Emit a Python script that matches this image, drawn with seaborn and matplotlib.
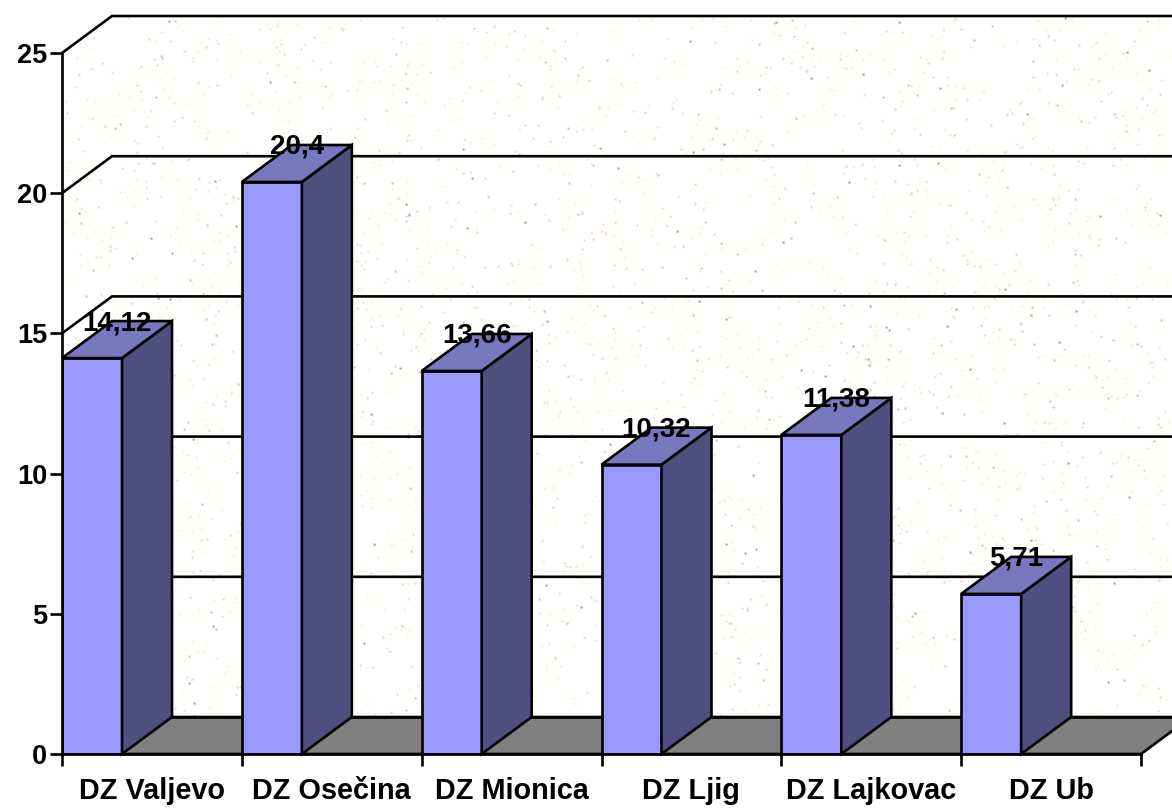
import numpy as np
import pandas as pd
import matplotlib
matplotlib.use("Agg")
import matplotlib.pyplot as plt
import seaborn as sns
from matplotlib.patches import Polygon

categories = ["DZ Valjevo", "DZ Osečina", "DZ Mionica", "DZ Ljig", "DZ Lajkovac", "DZ Ub"]
values = [14.12, 20.4, 13.66, 10.32, 11.38, 5.71]
y_ticks = [0, 5, 10, 15, 20, 25]

FRONT = "#9999FF"
TOP = "#7878BE"
SIDE = "#4F4F80"
FLOOR = "#808080"
LW = 1.9

W, H = 1172, 808
X0, X1, Y0, Y25 = 62, 1141, 754, 53
DEPTH_X, DEPTH_Y = 50, 37
CAT_W = (X1 - X0) / len(categories)
BAR_W = 60 / CAT_W
DX = DEPTH_X / CAT_W
UNIT_PX = (Y0 - Y25) / 25
DY = DEPTH_Y / UNIT_PX


def wall_texture():
    # decorative paper speckle only, the chart data does not come from this
    rng = np.random.default_rng(7)
    h, w = Y0 - 16, W - X0
    img = np.ones((h, w, 4))
    img[..., 2] = 0.995
    shades = [(0.68, 0.68, 0.65), (0.93, 0.72, 0.78), (0.98, 0.95, 0.65), (0.85, 0.85, 0.85), (0.45, 0.48, 0.45)]
    counts = [260, 700, 1500, 800, 120]
    for shade, n in zip(shades, counts):
        ys = rng.integers(2, h - 3, n)
        xs = rng.integers(2, w - 3, n)
        for y, x in zip(ys, xs):
            for dy, dx, a in [(0, 0, 0.7), (0, 1, 0.45), (1, 0, 0.45), (-1, 0, 0.3), (0, -1, 0.3),
                              (1, 1, 0.2), (-1, -1, 0.15), (1, -1, 0.15), (-1, 1, 0.15)]:
                img[y + dy, x + dx, :3] = img[y + dy, x + dx, :3] * (1 - a) + np.array(shade) * a
    # cut away the corner above the left wall
    yy, xx = np.mgrid[0:h, 0:w]
    img[(xx < DEPTH_X) & (yy < DEPTH_Y - xx * DEPTH_Y / DEPTH_X), 3] = 0
    # and the corner below the floor on the right
    floor_px = h - DEPTH_Y
    img[(yy > floor_px) & (xx > X1 - X0 + (h - yy) * DEPTH_X / DEPTH_Y), 3] = 0
    return img


sns.set_theme(style="white")
plt.rcParams["font.family"] = ["Liberation Sans", "DejaVu Sans"]
plt.rcParams["font.weight"] = "bold"

fig = plt.figure(figsize=(W / 100, H / 100), dpi=100, facecolor="white")
fig.figimage(wall_texture(), xo=X0, yo=H - Y0, origin="upper", zorder=0)

ax = fig.add_axes([X0 / W, (H - Y0) / H, (X1 - X0) / W, (Y0 - Y25) / H])
ax.set_zorder(2)
ax.patch.set_alpha(0)

df = pd.DataFrame({"unit": categories, "value": values})
sns.barplot(data=df, x="unit", y="value", color=FRONT, saturation=1, width=BAR_W,
            edgecolor="black", linewidth=LW, ax=ax, zorder=3)

left = -BAR_W / 2
right = left + len(categories)
ax.set_xlim(left, right)
ax.set_ylim(0, y_ticks[-1])

# floor and back wall lines, the back lines run off the right edge
far = left + (W + 10 - X0) / CAT_W
ax.add_patch(Polygon([(left, 0), (left + DX, DY), (right + DX, DY), (right, 0)], closed=True,
                     facecolor=FLOOR, edgecolor="black", lw=LW, clip_on=False, zorder=1))
ax.plot([left + DX, far], [DY, DY], color="black", lw=LW, clip_on=False, zorder=1)
for t in y_ticks[1:]:
    ax.plot([left, left + DX, far], [t, t + DY, t + DY], color="black", lw=LW,
            clip_on=False, zorder=1, solid_joinstyle="miter")

# depth faces and value labels for each bar
for i, v in enumerate(values):
    xl, xr = i - BAR_W / 2, i + BAR_W / 2
    ax.add_patch(Polygon([(xr, 0), (xr + DX, DY), (xr + DX, v + DY), (xr, v)], closed=True,
                         facecolor=SIDE, edgecolor="black", lw=LW, clip_on=False, zorder=3))
    ax.add_patch(Polygon([(xl, v), (xl + DX, v + DY), (xr + DX, v + DY), (xr, v)], closed=True,
                         facecolor=TOP, edgecolor="black", lw=LW, clip_on=False, zorder=3))
    ax.text(i + DX / 2, v + DY - 2 / UNIT_PX, f"{v:g}".replace(".", ","), ha="center", va="center",
            fontsize=20, fontweight="bold", color="black", zorder=5)

ax.set_yticks(y_ticks)
ax.set_yticklabels([str(t) for t in y_ticks], fontsize=19.5, fontweight="bold")
ax.tick_params(axis="y", left=True, length=8.6, width=LW, pad=2, color="black", labelcolor="black")

# labels sit mid-category, the tick marks on the boundaries
ax.set_xticks([left + k + 0.5 for k in range(len(categories))])
ax.set_xticklabels(categories, fontsize=20.8, fontweight="bold")
ax.set_xticks([left + k for k in range(len(categories) + 1)], minor=True)
ax.tick_params(axis="x", which="major", bottom=False, length=0, pad=16.5, labelcolor="black")
ax.tick_params(axis="x", which="minor", bottom=True, length=8.6, width=LW, color="black")
ax.set_xlabel("")
ax.set_ylabel("")

sns.despine(ax=ax, top=True, right=True)
for side in ["left", "bottom"]:
    ax.spines[side].set_color("black")
    ax.spines[side].set_linewidth(LW)
    ax.spines[side].set_zorder(4)

fig.savefig("out.png", dpi=100)
